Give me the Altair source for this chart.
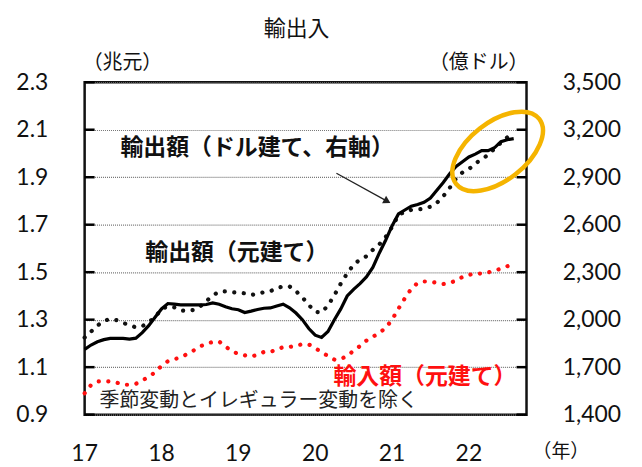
import altair as alt
import pandas as pd

# ---- data (monthly, Jan 2017 - Aug 2022) ----
start_year = 2017
exp_cny = [1.225, 1.25, 1.275, 1.295, 1.303, 1.298, 1.287, 1.276, 1.268, 1.272, 1.29, 1.31,
           1.345, 1.356, 1.352, 1.339, 1.337, 1.341, 1.355, 1.378, 1.402, 1.418, 1.419, 1.416,
           1.414, 1.411, 1.404, 1.409, 1.416, 1.42, 1.433, 1.44, 1.44, 1.42, 1.394, 1.362,
           1.333, 1.33, 1.36, 1.403, 1.452, 1.495, 1.532, 1.553, 1.567, 1.594, 1.617, 1.648,
           1.69, 1.74, 1.755, 1.762, 1.765, 1.767, 1.776, 1.792, 1.82, 1.855, 1.895, 1.92,
           1.934, 1.958, 1.975, 1.994, 2.02, 2.045, 2.068, 2.088]
imp_cny = [0.99, 1.025, 1.04, 1.041, 1.04, 1.035, 1.026, 1.026, 1.03, 1.043, 1.06, 1.078,
           1.105, 1.125, 1.133, 1.142, 1.155, 1.17, 1.187, 1.199, 1.206, 1.208, 1.187, 1.167,
           1.156, 1.15, 1.144, 1.153, 1.164, 1.164, 1.175, 1.184, 1.185, 1.19, 1.197, 1.196,
           1.18, 1.163, 1.147, 1.132, 1.134, 1.148, 1.169, 1.189, 1.212, 1.228, 1.244, 1.265,
           1.30, 1.346, 1.39, 1.43, 1.455, 1.461, 1.46, 1.455, 1.45, 1.455, 1.464, 1.48,
           1.489, 1.494, 1.494, 1.499, 1.506, 1.515, 1.525, 1.534]
exp_usd = [1812, 1840, 1860, 1874, 1882, 1882, 1882, 1877, 1883, 1918, 1962, 2015,
           2068, 2102, 2098, 2094, 2094, 2094, 2094, 2096, 2106, 2098, 2082, 2069,
           2063, 2045, 2054, 2064, 2072, 2074, 2086, 2098, 2075, 2042, 2000, 1944,
           1902, 1888, 1925, 2000, 2068, 2150, 2192, 2228, 2270, 2330, 2420, 2502,
           2592, 2668, 2693, 2717, 2728, 2742, 2768, 2818, 2867, 2922, 2968, 2998,
           3028, 3046, 3068, 3068, 3086, 3125, 3137, 3144]
year_ticks = [2017, 2018, 2019, 2020, 2021, 2022]
year_labels = ["17", "18", "19", "20", "21", "22"]
left_ticks = [0.9, 1.1, 1.3, 1.5, 1.7, 1.9, 2.1, 2.3]
right_ticks = [1400, 1700, 2000, 2300, 2600, 2900, 3200, 3500]

title_text = "輸出入"
left_unit = "（兆元）"
right_unit = "（億ドル）"
x_unit = "（年）"
lab_usd = "輸出額（ドル建て、右軸）"
lab_exp = "輸出額（元建て）"
lab_imp = "輸入額（元建て）"
note = "季節変動とイレギュラー変動を除く"

t = [start_year + i / 12 for i in range(len(exp_cny))]
df_exp = pd.DataFrame({"t": t, "v": exp_cny})
df_imp = pd.DataFrame({"t": t, "v": imp_cny})
df_usd = pd.DataFrame({"t": t, "v": exp_usd})
df_lt = pd.DataFrame({"v": left_ticks})
df_rt = pd.DataFrame({"v": right_ticks})
df_years = pd.DataFrame({"t": year_ticks, "lab": year_labels})
one = pd.DataFrame({"a": [0]})

W, H = 444, 334
OX, OY = 85, 81.5  # plot origin in page pixels
NUM_FONT = "Lato"
JP_FONT = "Noto Sans CJK JP"

xscale = alt.Scale(domain=[2017, 2022.75], nice=False, zero=False)
lscale = alt.Scale(domain=[0.9, 2.3], nice=False, zero=False)
rscale = alt.Scale(domain=[1400, 3500], nice=False, zero=False)

x_axis = alt.Axis(values=year_ticks, labels=False,
                  grid=True, gridDash=[4, 3], gridColor="#555", gridWidth=1.3,
                  ticks=False, domain=False, title=None)
left_axis = alt.Axis(values=left_ticks, format=".1f", grid=True, gridDash=[1, 1],
                     gridColor="#777", gridWidth=1.2, ticks=False, domain=False,
                     labelPadding=37, labelFontSize=23, labelFont=NUM_FONT,
                     labelColor="#111", title=None)
right_axis = alt.Axis(values=right_ticks, format=",.0f", orient="right", grid=False,
                      ticks=False, domain=False, labelPadding=36, labelFontSize=23,
                      labelFont=NUM_FONT, labelColor="#111", title=None)

dot = dict(strokeDash=[0.1, 9.5], strokeCap="round", strokeWidth=4.2)

exp_line = alt.Chart(df_exp).mark_line(color="#111", **dot).encode(
    x=alt.X("t:Q", scale=xscale, axis=x_axis),
    y=alt.Y("v:Q", scale=lscale, axis=left_axis))
imp_line = alt.Chart(df_imp).mark_line(color="#FF1010", **dot).encode(
    x=alt.X("t:Q", scale=xscale, axis=None),
    y=alt.Y("v:Q", scale=lscale, axis=None))
usd_line = alt.Chart(df_usd).mark_line(color="#000", strokeWidth=3.2).encode(
    x=alt.X("t:Q", scale=xscale, axis=None),
    y=alt.Y("v:Q", scale=rscale, axis=right_axis))

# year labels below the plot, positioned through the x scale
year_text = alt.Chart(df_years).mark_text(font=NUM_FONT, fontSize=23, color="#111",
                                          align="center", baseline="middle").encode(
    x=alt.X("t:Q", scale=xscale, axis=None), y=alt.value(H + 40), text="lab:N")

lt = alt.Chart(df_lt).mark_rule(color="#000", strokeWidth=2.5).encode(
    x=alt.value(0), x2=alt.value(10), y=alt.Y("v:Q", scale=lscale, axis=None))
rt = alt.Chart(df_rt).mark_rule(color="#000", strokeWidth=2.5).encode(
    x=alt.value(W - 10), x2=alt.value(W), y=alt.Y("v:Q", scale=rscale, axis=None))


def txt(s, px, py, size, color="#111", weight="normal", align="left"):
    return alt.Chart(one).mark_text(text=s, font=JP_FONT, fontSize=size, color=color,
                                    fontWeight=weight, align=align, baseline="middle").encode(
        x=alt.value(px - OX), y=alt.value(py - OY))


texts = [
    txt(title_text, 298, 28, 22, align="center"),
    txt(left_unit, 83, 62, 20),
    txt(right_unit, 431, 62, 20),
    txt(x_unit, 535, 453, 19),
    txt(lab_usd, 121, 148, 23, weight="bold"),
    txt(lab_exp, 146, 253, 23, weight="bold"),
    txt(lab_imp, 335, 378, 23, color="#FF1010", weight="bold"),
    txt(note, 100, 402, 20, color="#222"),
]

arrow_line = alt.Chart(one).mark_rule(color="#222", strokeWidth=1.3).encode(
    x=alt.value(338 - OX), y=alt.value(173 - OY),
    x2=alt.value(387 - OX), y2=alt.value(200 - OY))
arrow_head = alt.Chart(one).mark_point(shape="triangle", filled=True, color="#222",
                                       opacity=1, size=70, angle=119).encode(
    x=alt.value(388 - OX), y=alt.value(200.5 - OY))

ellipse_path = ("M 1 0 C 1 0.3038 0.5523 0.55 0 0.55 C -0.5523 0.55 -1 0.3038 -1 0 "
                "C -1 -0.3038 -0.5523 -0.55 0 -0.55 C 0.5523 -0.55 1 -0.3038 1 0 Z")
ellipse = alt.Chart(one).mark_point(shape=ellipse_path, filled=False, color="#F5B400",
                                    strokeWidth=4.5, opacity=1, size=11236, angle=322).encode(
    x=alt.value(500 - OX), y=alt.value(151 - OY))

chart = alt.layer(exp_line, imp_line, usd_line, year_text, lt, rt, arrow_line, arrow_head,
                  ellipse, *texts).resolve_scale(y="independent").properties(
    width=W, height=H,
    autosize=alt.AutoSizeParams(type="none"),
    padding={"left": OX - 8, "top": OY - 8, "right": 108, "bottom": 51},
    background="white",
).configure_view(stroke="#111", strokeWidth=2.5)

chart.save("out.html", embed_options={"renderer": "svg", "actions": False})
